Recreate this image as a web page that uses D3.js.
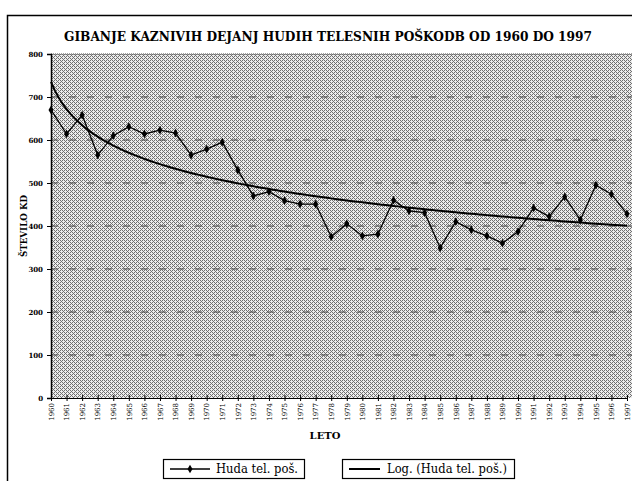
<!DOCTYPE html>
<html>
<head>
<meta charset="utf-8">
<script src="https://cdn.jsdelivr.net/npm/d3@7"></script>
<style>
  body { margin: 0; background: #fff; }
  svg text { font-family: "DejaVu Serif", "Liberation Serif", serif; }
</style>
</head>
<body>
<div id="chart"></div>
<script>
// values
const years = d3.range(1960, 1998);
const hudaTelPos = [670, 614, 658, 565, 610, 631, 614, 623, 616, 565,
                    579, 595, 530, 470, 480, 459, 451, 451, 375, 405,
                    377, 381, 460, 435, 431, 349, 410, 391, 377, 360,
                    387, 442, 422, 468, 414, 495, 474, 428];
const yTicks = [0, 100, 200, 300, 400, 500, 600, 700, 800];
const titleText = "GIBANJE KAZNIVIH DEJANJ HUDIH TELESNIH POŠKODB OD 1960 DO 1997";
const legendLabels = ["Huda tel. poš.", "Log. (Huda tel. poš.)"];

const serif = '"DejaVu Serif", "Liberation Serif", serif';
const width = 632, height = 481;
const plot = {left: 51, right: 627, top: 54, bottom: 398};

const svg = d3.select('#chart').append('svg')
    .attr('width', width).attr('height', height);

// halftone background like the scan (ordered dither cells)
const defs = svg.append('defs');
const pat = defs.append('pattern')
    .attr('id', 'dots').attr('width', 4).attr('height', 4)
    .attr('patternUnits', 'userSpaceOnUse');
pat.append('rect').attr('width', 4).attr('height', 4).attr('fill', '#ececec');
[[0,0],[2,0],[1,1],[0,2],[2,2],[3,3]].forEach(p => {
  pat.append('rect').attr('x', p[0]).attr('y', p[1])
     .attr('width', 1).attr('height', 1).attr('fill', '#707070');
});

// outer frame
svg.append('rect').attr('x', 7.5).attr('y', 15.5)
    .attr('width', 640).attr('height', 480)
    .attr('fill', 'none').attr('stroke', '#000').attr('stroke-width', 1.5);

const x = d3.scalePoint().domain(years).range([plot.left, plot.right]);
const y = d3.scaleLinear().domain([0, 800]).range([plot.bottom, plot.top]);

svg.append('rect')
    .attr('x', plot.left).attr('y', plot.top)
    .attr('width', 640 - plot.left).attr('height', plot.bottom - plot.top)
    .attr('fill', 'url(#dots)');

// dashed gridlines
svg.append('g').selectAll('line')
  .data(yTicks.slice(1))
  .join('line')
    .attr('x1', plot.left).attr('x2', 640)
    .attr('y1', d => y(d)).attr('y2', d => y(d))
    .attr('stroke', '#444')
    .attr('stroke-width', 1)
    .attr('stroke-dasharray', d => d === 800 ? '1,1' : '7,11');

// y axis
const yAxis = svg.append('g')
    .attr('transform', `translate(${plot.left},0)`)
    .call(d3.axisLeft(y).tickValues(yTicks).tickSize(4).tickPadding(4));
yAxis.select('.domain').attr('stroke-width', 1.5);
yAxis.selectAll('text')
    .style('font-size', '7px').style('font-weight', 'bold')
    .style('font-family', serif);

// x axis with cross ticks
const xAxis = svg.append('g')
    .attr('transform', `translate(0,${plot.bottom})`)
    .call(d3.axisBottom(x).tickSize(3).tickPadding(5));
xAxis.select('.domain').attr('stroke-width', 1);
xAxis.selectAll('.tick line').attr('y1', -3);
xAxis.selectAll('.tick text')
    .attr('transform', 'rotate(-90)')
    .attr('x', -5).attr('y', 0).attr('dy', '0.32em')
    .attr('text-anchor', 'end')
    .style('font-size', '7px')
    .style('font-family', serif);

// logarithmic trend (least squares on ln(index)), as the spreadsheet does
const lnX = years.map((d, i) => Math.log(i + 1));
const mx = d3.mean(lnX), my = d3.mean(hudaTelPos);
const slope = d3.sum(lnX, (v, i) => (v - mx) * (hudaTelPos[i] - my)) /
              d3.sum(lnX, v => (v - mx) * (v - mx));
const icpt = my - slope * mx;
const trendX = d3.range(0, years.length - 1 + 0.01, 0.25);
const trendLine = d3.line()
    .x(t => x(years[0]) + t * x.step())
    .y(t => y(icpt + slope * Math.log(t + 1)));
svg.append('path')
    .datum(trendX)
    .attr('d', trendLine)
    .attr('fill', 'none').attr('stroke', '#000').attr('stroke-width', 2);

// data line
const line = d3.line().x((d, i) => x(years[i])).y(d => y(d));
svg.append('path')
    .datum(hudaTelPos)
    .attr('d', line)
    .attr('fill', 'none').attr('stroke', '#000').attr('stroke-width', 1.3);

const diamond = d3.symbol().type(d3.symbolDiamond).size(22);
svg.append('g').selectAll('path')
  .data(hudaTelPos)
  .join('path')
    .attr('d', diamond)
    .attr('transform', (d, i) => `translate(${x(years[i])},${y(d)})`)
    .attr('fill', '#000');

// texts
svg.append('text')
    .attr('x', 328).attr('y', 41)
    .attr('text-anchor', 'middle')
    .attr('textLength', 528).attr('lengthAdjust', 'spacingAndGlyphs')
    .style('font-size', '13px').style('font-weight', 'bold')
    .text(titleText);

svg.append('text')
    .attr('transform', `translate(27,${(plot.top + plot.bottom) / 2}) rotate(-90)`)
    .attr('text-anchor', 'middle')
    .attr('textLength', 62).attr('lengthAdjust', 'spacingAndGlyphs')
    .style('font-size', '10px').style('font-weight', 'bold')
    .text('ŠTEVILO KD');

svg.append('text')
    .attr('x', 325).attr('y', 439)
    .attr('text-anchor', 'middle')
    .style('font-size', '10px').style('font-weight', 'bold')
    .text('LETO');

// legend
const legend = svg.append('g');
const boxes = [{x: 163, w: 141, tw: 82}, {x: 342, w: 172, tw: 120}];
boxes.forEach((b, i) => {
  const g = legend.append('g').attr('transform', `translate(${b.x},459)`);
  g.append('rect').attr('x', 0.5).attr('y', 0.5)
    .attr('width', b.w).attr('height', 19)
    .attr('fill', '#fff').attr('stroke', '#000').attr('stroke-width', 1.2);
  g.append('line').attr('x1', 7).attr('x2', i === 0 ? 47 : 38)
    .attr('y1', 10).attr('y2', 10)
    .attr('stroke', '#000').attr('stroke-width', i === 0 ? 1.3 : 2);
  if (i === 0) {
    g.append('path').attr('d', diamond)
      .attr('transform', 'translate(27,10)').attr('fill', '#000');
  }
  g.append('text')
    .attr('x', i === 0 ? 53 : 45).attr('y', 14)
    .attr('textLength', b.tw).attr('lengthAdjust', 'spacingAndGlyphs')
    .style('font-size', '12px')
    .text(legendLabels[i]);
});
</script>
</body>
</html>
